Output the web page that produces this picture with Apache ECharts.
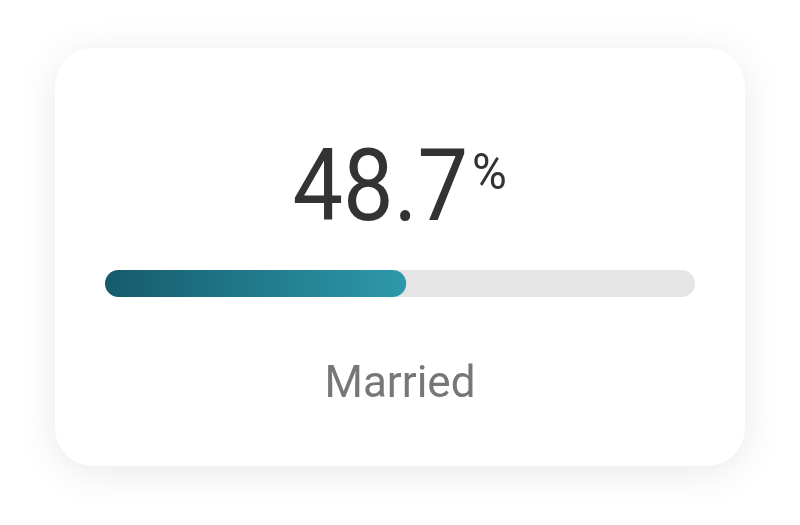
<!DOCTYPE html>
<html>
<head>
<meta charset="utf-8">
<script src="https://cdn.jsdelivr.net/npm/echarts@6/dist/echarts.min.js"></script>
<style>
html,body{margin:0;padding:0;background:#ffffff;}
#chart{width:800px;height:525px;}
</style>
</head>
<body>
<div id="chart"></div>
<script>
// ---- data ----
const categories = ['Married'];
const values = [48.7];
const trackMax = [100];
const valueText = '48.7';
const unitText = '%';

const chart = echarts.init(document.getElementById('chart'), null, {renderer: 'canvas'});

function barRender(isTrack) {
  return function (params, api) {
    const cat = api.value(0);
    const v = api.value(1);
    const p0 = api.coord([0, cat]);
    const p1 = api.coord([v, cat]);
    const h = api.size([0, 1])[1];
    const r = h / 2;
    const x = p0[0] - r;
    const w = p1[0] - p0[0] + 2 * r;
    return {
      type: 'rect',
      shape: {x: x, y: p0[1] - r, width: w, height: h, r: r},
      style: {
        fill: isTrack ? '#e5e5e5' : new echarts.graphic.LinearGradient(0, 0, 1, 0, [
          {offset: 0, color: '#155b6b'},
          {offset: 1, color: '#2d99ab'}
        ])
      }
    };
  };
}

const option = {
  animation: false,
  grid: {left: 118.5, right: 800 - 681.5, top: 270, height: 27, containLabel: false},
  xAxis: {type: 'value', min: 0, max: 100, show: false},
  yAxis: {type: 'category', data: categories, show: false},
  graphic: [
    {
      type: 'rect', z: -10,
      shape: {x: 55, y: 48, width: 690, height: 418, r: 38},
      style: {fill: '#ffffff', shadowBlur: 40, shadowColor: 'rgba(0,0,0,0.09)', shadowOffsetY: 6}
    },
    {
      type: 'text', x: 468, y: 195, scaleX: 0.9, z: 10,
      style: {text: valueText, font: 'normal 100px Roboto', fill: '#333333', textAlign: 'right', textVerticalAlign: 'middle'}
    },
    {
      type: 'text', x: 472, y: 176, scaleX: 0.95, z: 10,
      style: {text: unitText, font: 'normal 50px Roboto', fill: '#333333', textAlign: 'left', textVerticalAlign: 'middle'}
    },
    {
      type: 'text', x: 400, y: 386, z: 10,
      style: {text: categories[0], font: 'normal 44px Roboto', fill: '#777777', textAlign: 'center', textVerticalAlign: 'middle'}
    }
  ],
  series: [
    {
      type: 'custom', renderItem: barRender(true),
      encode: {y: 0, x: 1},
      data: categories.map((c, i) => [i, trackMax[i]]), z: 1
    },
    {
      type: 'custom', renderItem: barRender(false),
      encode: {y: 0, x: 1},
      data: categories.map((c, i) => [i, values[i]]), z: 2
    }
  ]
};
chart.setOption(option);
</script>
</body>
</html>
